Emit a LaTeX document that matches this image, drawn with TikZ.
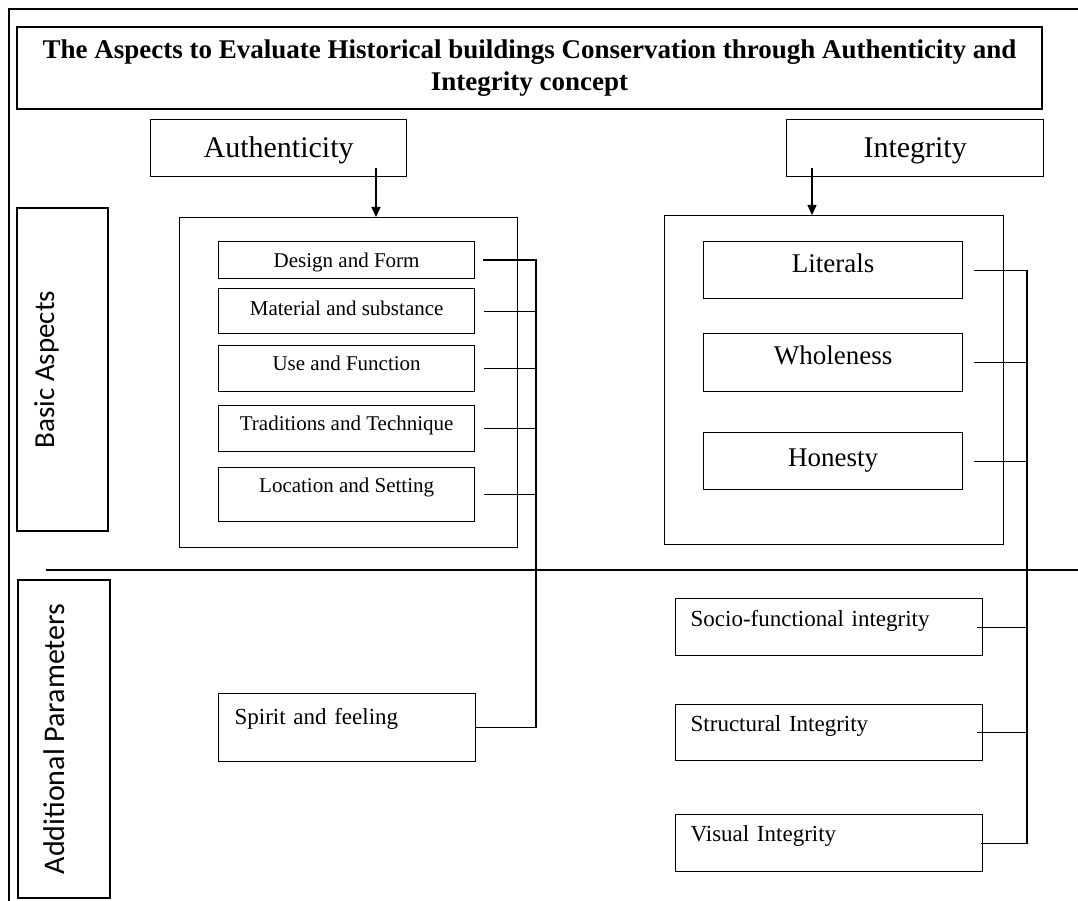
\documentclass[tikz,border=0pt]{standalone}
\usepackage{fontspec}
\setmainfont{Liberation Serif}
\newfontfamily\sidefont{Carlito}
\usetikzlibrary{arrows.meta,positioning,calc}
\tikzset{
  ttl/.style ={rectangle, draw, line width=1.3pt, minimum width=1025pt, minimum height=82pt,
               align=center, font=\fontsize{27}{32}\selectfont\bfseries},
  head/.style={rectangle, draw, line width=1.3pt, anchor=north west, inner sep=0pt,
               minimum width=256pt, text height=38pt, text depth=19pt, font=\fontsize{30}{36}\selectfont},
  grp/.style ={rectangle, draw, line width=1.3pt, anchor=north west, inner sep=0pt},
  itm/.style ={rectangle, draw, line width=1.3pt, anchor=north west, inner sep=0pt,
               minimum width=256pt, font=\fontsize{21}{25}\selectfont},
  itmb/.style={itm, minimum width=259pt, font=\fontsize{27}{32}\selectfont},
  prm/.style ={itm, inner xsep=15pt, text width=277pt, align=left, font=\fontsize{23}{27}\selectfont},
  side/.style={rectangle, draw, line width=1.3pt, rotate=90, inner sep=0pt},
  ar/.style  ={-{Triangle[length=10pt,width=9pt]}, line width=1.3pt},
  ln/.style  ={line width=1.3pt},
}

\begin{document}
\begin{tikzpicture}[x=1pt,y=-1pt]
\useasboundingbox (0,0) rectangle (1078,901);

\coordinate (fbl) at (9,901); \coordinate (ftl) at (9,9); \coordinate (ftr) at (1078,9);
\draw[line width=2.2pt] (fbl) -- (ftl) -- (ftr);

\node[ttl] (title) at (529.5,68) {The Aspects to Evaluate Historical buildings Conservation through Authenticity and\\Integrity concept};
\node[head] (auth) at (150,119) {Authenticity};
\node[head, minimum width=257pt] (integ) at (786,119) {Integrity};

\node[side, minimum width=323pt, text height=37pt, text depth=54pt, font=\sidefont\fontsize{29}{34}\selectfont] (bas) at (62.5,369.5) {Basic Aspects};
\node[side, minimum width=318pt, text height=46pt, text depth=46pt, font=\sidefont\fontsize{30}{36}\selectfont] (add) at (64,739) {Additional Parameters};

\node[grp, minimum width=338pt, minimum height=330pt] (aout) at (179,217) {};
\node[grp, minimum width=339pt, minimum height=329pt] (iout) at (664,215) {};

\node[itm, text height=26pt, text depth=11pt] (des) at (218,241) {Design and Form};
\node[itm, text height=27pt, text depth=18pt] (mat) at (218,288) {Material and substance};
\node[itm, text height=25pt, text depth=21pt] (use) at (218,345) {Use and Function};
\node[itm, text height=25pt, text depth=21pt] (tra) at (218,405) {Traditions and Technique};
\node[itm, text height=25pt, text depth=29pt] (loc) at (218,467) {Location and Setting};

\node[itmb, text height=31pt, text depth=26pt] (lit) at (703,241) {Literals};
\node[itmb, text height=31pt, text depth=27pt] (who) at (703,333) {Wholeness};
\node[itmb, text height=34pt, text depth=23pt] (hon) at (703,432) {Honesty};

\node[prm, inner xsep=16pt, text width=225pt, text height=31pt, text depth=37pt] (spi) at (218,693) {Spirit and feeling};
\node[prm, text height=28pt, text depth=29pt] (soc) at (675,598) {Socio-functional integrity};
\node[prm, text height=27pt, text depth=29pt] (stru) at (675,704) {Structural Integrity};
\node[prm, text height=27pt, text depth=30pt] (vis) at (675,814) {Visual Integrity};

\coordinate (sepl) at (46,570); \coordinate (sepr) at (1078,570);
\draw[ln] (sepl) -- (sepr);

\coordinate (aar) at (376,168); \coordinate (iar) at (812,168);
\draw[ar] (aar) -- (aar |- aout.north);
\draw[ar] (iar) -- (iar |- iout.north);

\coordinate (abus) at (536,0); \coordinate (ibus) at (1027,0);
\draw[ln] ([xshift=8pt]des.east) -- (des.east -| abus) -- (spi.east -| abus) -- (spi.east);
\foreach \n in {mat,use,tra,loc} \draw[ln] ([xshift=9pt]\n.east) -- (\n.east -| abus);
\draw[ln] ([xshift=11pt]lit.east) -- (lit.east -| ibus) -- (vis.east -| ibus) -- ([xshift=-2pt]vis.east);
\foreach \n in {who,hon} \draw[ln] ([xshift=11pt]\n.east) -- (\n.east -| ibus);
\foreach \n in {soc,stru} \draw[ln] ([xshift=-6pt]\n.east) -- (\n.east -| ibus);
\end{tikzpicture}
\end{document}
